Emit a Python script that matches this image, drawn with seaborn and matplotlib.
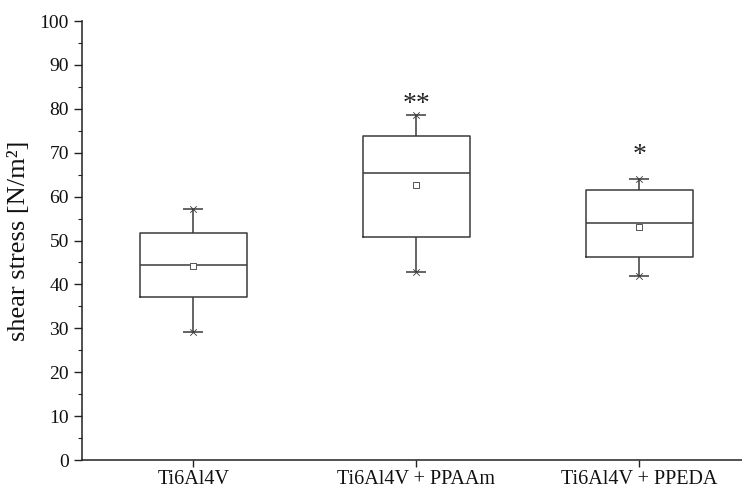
import numpy as np
import pandas as pd
import matplotlib
matplotlib.use("Agg")
import matplotlib.pyplot as plt
from matplotlib.ticker import MultipleLocator
import matplotlib.transforms as mtransforms
import seaborn as sns

# ---- data ----
groups = ["Ti6Al4V", "Ti6Al4V + PPAAm", "Ti6Al4V + PPEDA"]
mins = [29.1, 42.9, 41.9]
q1 = [37.1, 50.8, 46.3]
medians = [44.4, 65.4, 54.0]
q3 = [51.7, 73.9, 61.6]
maxs = [57.1, 78.7, 64.0]
means = [44.1, 62.7, 53.1]
stars = ["", "**", "*"]
star_y = [0.0, 82.0, 70.3]
yticks = list(range(0, 101, 10))

sns.set_theme(style="ticks")
plt.rcParams['font.family'] = ['Liberation Serif', 'DejaVu Serif']

# five-number summaries as long table: quartiles of 5 values reproduce q1/median/q3
df = pd.DataFrame({
    "group": np.repeat(groups, 5),
    "value": [v for i in range(len(groups))
              for v in (mins[i], q1[i], medians[i], q3[i], maxs[i])],
})

fig = plt.figure(figsize=(7.42, 4.90), dpi=100)
ax = fig.add_axes([82 / 742, 30 / 490, 660 / 742, 439 / 490])

line_col = "#3a3a3a"
sns.boxplot(data=df, x="group", y="value", order=groups, whis=(0, 100),
            width=0.48, fill=False, color=line_col, linecolor=line_col,
            linewidth=1.1, showcaps=False, showfliers=False, ax=ax)

pos = np.arange(len(groups))
# whisker caps and min/max crosses
for arr in (mins, maxs):
    ax.scatter(pos, arr, marker="_", s=210, color=line_col, linewidths=1.1, zorder=4)
    ax.scatter(pos, arr, marker="x", s=22, color=line_col, linewidths=0.6, zorder=4)
# mean markers
ax.scatter(pos, means, marker="s", s=13, facecolors="white",
           edgecolors="#555555", linewidths=0.7, zorder=5)

# significance stars (glyph sits high in the em box, so shift down a little)
star_tr = ax.transData + mtransforms.ScaledTranslation(0, -3 / 72, fig.dpi_scale_trans)
for i, (s, y) in enumerate(zip(stars, star_y)):
    if s:
        ax.text(i, y, s, ha="center", va="center", fontsize=20,
                color="#222222", transform=star_tr)

ax.set_ylim(0, 100)
ax.set_xlim(-0.5, 2.46)
ax.set_yticks(yticks)
ax.set_yticklabels([str(t) for t in yticks])
ax.yaxis.set_minor_locator(MultipleLocator(5))
ax.tick_params(axis="y", which="major", direction="out", length=6, width=1,
               color="#222222", labelsize=14, pad=3.5, labelcolor="#111111")
ax.tick_params(axis="y", which="minor", direction="out", length=3, width=0.8,
               color="#222222")
ax.tick_params(axis="x", which="major", direction="out", length=5, width=1,
               color="#222222", labelsize=14.5, pad=2.5, labelcolor="#111111")
for side in ("top", "right"):
    ax.spines[side].set_visible(False)
for side in ("left", "bottom"):
    ax.spines[side].set_linewidth(1.1)
    ax.spines[side].set_color("#222222")

ax.set_xlabel("")
ax.set_ylabel("shear stress [N/m²]", fontsize=19, labelpad=7, color="#111111")

fig.savefig("out.png", dpi=100, facecolor="white")
